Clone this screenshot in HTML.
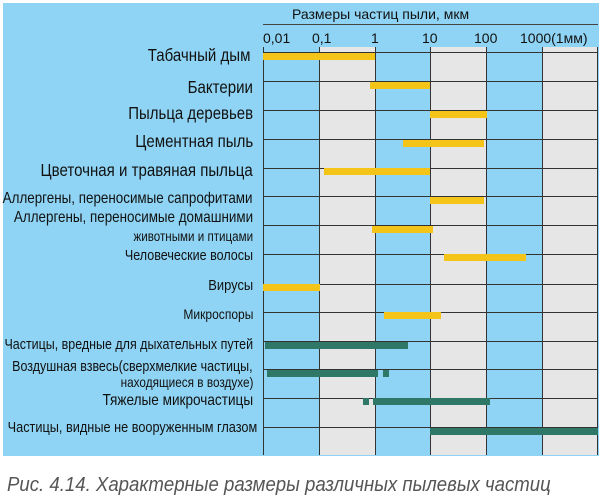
<!DOCTYPE html>
<html><head><meta charset="utf-8"><style>
*{margin:0;padding:0}
body{width:602px;height:501px;background:#fff;position:relative;overflow:hidden;font-family:"Liberation Sans","DejaVu Sans",sans-serif}
.bg{position:absolute;left:3px;top:3px;width:596px;height:453px;background:#8fd4f4}
.col{position:absolute;top:47px;height:408px;width:56px}
.g{background:#e6e6e6}
.v{position:absolute;top:47px;height:408px;width:1px;background:#333}
.h{position:absolute;left:263px;width:335px;height:1px;background:#333}
.y{position:absolute;height:7px;background:#f5c419}
.gr{position:absolute;height:7px;background:#2f7766}
.l{position:absolute;right:349px;white-space:nowrap;font-size:13px;color:#111;transform:scaleX(.86);transform-origin:right center;line-height:14px;text-align:right}
.t{position:absolute;top:30px;font-size:14px;color:#111}
</style></head><body>
<div class="bg"></div>
<div class="col g" style="left:320px"></div>
<div class="col g" style="left:431px"></div>
<div class="col g" style="left:542px"></div>
<div class="v" style="left:263px"></div>
<div class="v" style="left:319px"></div>
<div class="v" style="left:375px"></div>
<div class="v" style="left:430px"></div>
<div class="v" style="left:486px"></div>
<div class="v" style="left:542px"></div>
<div class="v" style="left:597px"></div>
<div class="h" style="top:24px;background:#444"></div>
<div style="position:absolute;left:292px;top:6px;font-size:14px;color:#111">Размеры частиц пыли, мкм</div>
<div class="t" style="left:263px">0,01</div>
<div class="t" style="left:312px">0,1</div>
<div class="t" style="left:371px">1</div>
<div class="t" style="left:422px">10</div>
<div class="t" style="left:474px">100</div>
<div class="t" style="left:520px">1000(1мм)</div>
<div class="h" style="top:52px"></div>
<div class="h" style="top:81px"></div>
<div class="h" style="top:110px"></div>
<div class="h" style="top:139px"></div>
<div class="h" style="top:168px"></div>
<div class="h" style="top:196px"></div>
<div class="h" style="top:225px"></div>
<div class="h" style="top:254px"></div>
<div class="h" style="top:284px"></div>
<div class="h" style="top:312px"></div>
<div class="h" style="top:341px"></div>
<div class="h" style="top:369px"></div>
<div class="h" style="top:398px"></div>
<div class="h" style="top:427px"></div>
<div class="y" style="left:263px;width:112px;top:53px"></div>
<div class="y" style="left:370px;width:60px;top:82px"></div>
<div class="y" style="left:430px;width:57px;top:111px"></div>
<div class="y" style="left:403px;width:81px;top:140px"></div>
<div class="y" style="left:324px;width:106px;top:168px"></div>
<div class="y" style="left:430px;width:54px;top:197px"></div>
<div class="y" style="left:372px;width:61px;top:226px"></div>
<div class="y" style="left:444px;width:82px;top:254px"></div>
<div class="y" style="left:263px;width:57px;top:284px"></div>
<div class="y" style="left:384px;width:57px;top:312px"></div>
<div class="gr" style="left:265px;width:143px;top:342px"></div>
<div class="gr" style="left:267px;width:111px;top:370px"></div>
<div class="gr" style="left:383px;width:6px;top:370px"></div>
<div class="gr" style="left:363px;width:6px;top:398px"></div>
<div class="gr" style="left:373px;width:117px;top:398px"></div>
<div class="gr" style="left:430px;width:168px;top:428px"></div>
<div class="l" style="top:48px;font-size:17.5px;right:352px">Табачный дым</div>
<div class="l" style="top:80px;font-size:17.5px">Бактерии</div>
<div class="l" style="top:106px;font-size:17.4px">Пыльца деревьев</div>
<div class="l" style="top:134px;font-size:17.5px">Цементная пыль</div>
<div class="l" style="top:163px;font-size:17.5px">Цветочная и травяная пыльца</div>
<div class="l" style="top:192px;font-size:15.6px">Аллергены, переносимые сапрофитами</div>
<div class="l" style="top:211px;font-size:15.6px">Аллергены, переносимые домашними</div>
<div class="l" style="top:230px;font-size:13.5px">животными и птицами</div>
<div class="l" style="top:249px;font-size:14.6px">Человеческие волосы</div>
<div class="l" style="top:279px;font-size:15px">Вирусы</div>
<div class="l" style="top:307px;font-size:14px">Микроспоры</div>
<div class="l" style="top:338px;font-size:14.5px">Частицы, вредные для дыхательных путей</div>
<div class="l" style="top:360px;font-size:14.5px">Воздушная взвесь(сверхмелкие частицы,</div>
<div class="l" style="top:376px;font-size:13.7px">находящиеся в воздухе)</div>
<div class="l" style="top:394px;font-size:15.8px">Тяжелые микрочастицы</div>
<div class="l" style="top:421px;right:345px;font-size:14.8px">Частицы, видные не вооруженным глазом</div>
<div style="position:absolute;left:7px;top:474px;font-size:20px;font-style:italic;color:#555;white-space:nowrap;transform:scaleX(.93);transform-origin:left center">Рис. 4.14. Характерные размеры различных пылевых частиц</div>
</body></html>
